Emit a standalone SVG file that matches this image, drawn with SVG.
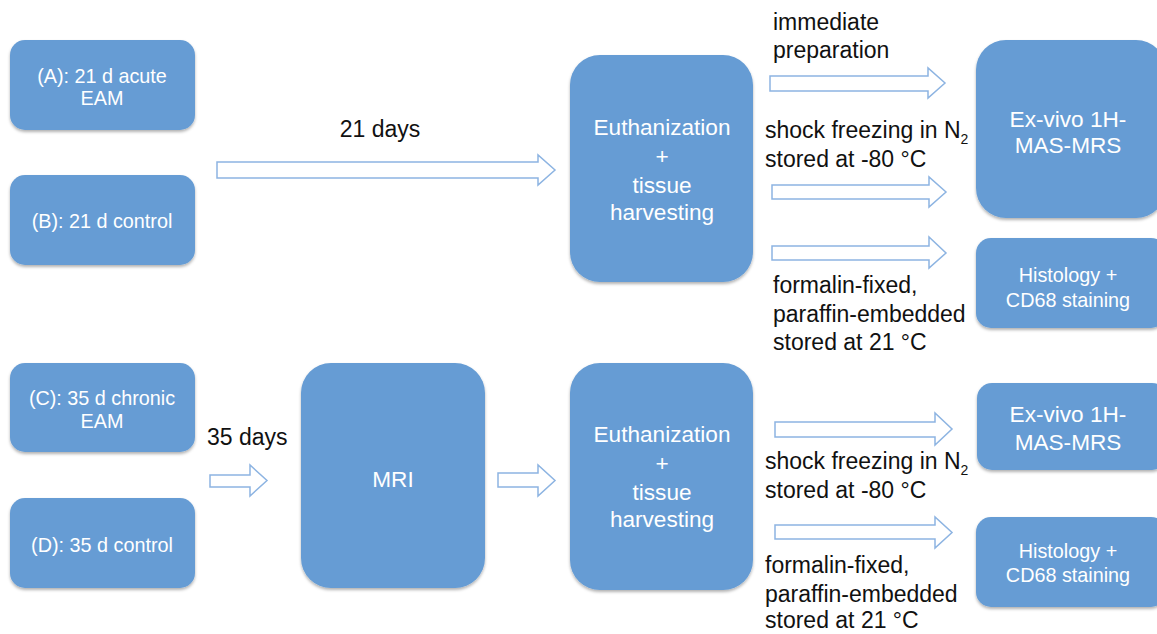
<svg xmlns="http://www.w3.org/2000/svg" width="1157" height="634" viewBox="0 0 1157 634">
<style>
.box{fill:#669cd4;filter:url(#sh)}
.wt{fill:#ffffff;font-family:"Liberation Sans",Arial,sans-serif;text-anchor:middle}
.w19{font-size:19.8px}
.w22{font-size:22.6px}
.lbl{fill:#111111;font-family:"Liberation Sans",Arial,sans-serif;font-size:23px}
.arr{fill:#ffffff;stroke:#8db4e2;stroke-width:1.5;stroke-linejoin:miter}
</style>
<defs>
<filter id="sh" x="-10%" y="-10%" width="120%" height="125%">
<feDropShadow dx="0" dy="2" stdDeviation="1.5" flood-color="#000" flood-opacity="0.3"/>
</filter>
</defs>
<rect width="1157" height="634" fill="#ffffff"/>
<g id="nodeA"><rect class="box" x="10" y="40" width="185" height="90" rx="15"/>
<text class="wt w19" x="102" y="83">(A): 21 d acute</text><text class="wt w19" x="102" y="105">EAM</text></g>
<g id="nodeB"><rect class="box" x="10" y="175" width="185" height="90" rx="15"/>
<text class="wt w19" x="102" y="228">(B): 21 d control</text></g>
<g id="nodeEuth1"><rect class="box" x="570" y="55" width="183" height="227" rx="30"/>
<text class="wt w22" x="662" y="135">Euthanization</text><text class="wt w22" x="662" y="164">+</text><text class="wt w22" x="662" y="193">tissue</text><text class="wt w22" x="662" y="220">harvesting</text></g>
<g id="nodeMRS1"><rect class="box" x="976" y="40" width="190" height="178" rx="30"/>
<text class="wt w22" x="1068" y="127">Ex-vivo 1H-</text><text class="wt w22" x="1068" y="153">MAS-MRS</text></g>
<g id="nodeHist1"><rect class="box" x="976" y="238" width="190" height="90" rx="15"/>
<text class="wt w19" x="1068" y="282">Histology +</text><text class="wt w19" x="1068" y="307">CD68 staining</text></g>
<g id="nodeC"><rect class="box" x="10" y="363" width="185" height="89" rx="15"/>
<text class="wt w19" x="102" y="405">(C): 35 d chronic</text><text class="wt w19" x="102" y="428">EAM</text></g>
<g id="nodeD"><rect class="box" x="10" y="498" width="185" height="90" rx="15"/>
<text class="wt w19" x="102" y="552">(D): 35 d control</text></g>
<g id="nodeMRI"><rect class="box" x="301" y="363" width="184" height="225" rx="30"/>
<text class="wt w22" x="393" y="487">MRI</text></g>
<g id="nodeEuth2"><rect class="box" x="570" y="363" width="183" height="227" rx="30"/>
<text class="wt w22" x="662" y="442">Euthanization</text><text class="wt w22" x="662" y="471">+</text><text class="wt w22" x="662" y="500">tissue</text><text class="wt w22" x="662" y="527">harvesting</text></g>
<g id="nodeMRS2"><rect class="box" x="977" y="383" width="190" height="87" rx="15"/>
<text class="wt w22" x="1068" y="422">Ex-vivo 1H-</text><text class="wt w22" x="1068" y="450">MAS-MRS</text></g>
<g id="nodeHist2"><rect class="box" x="976" y="517" width="190" height="90" rx="15"/>
<text class="wt w19" x="1068" y="558">Histology +</text><text class="wt w19" x="1068" y="582">CD68 staining</text></g>
<g id="connectors">
<path class="arr" d="M217,162 H538 V155 L555,170 L538,185 V178 H217 Z"/>
<path class="arr" d="M770,76 H928 V68 L945,83 L928,98 V91 H770 Z"/>
<path class="arr" d="M772,185 H929 V177 L946,192 L929,207 V199 H772 Z"/>
<path class="arr" d="M772,246 H929 V237 L946,253 L929,268 V260 H772 Z"/>
<path class="arr" d="M210,475 H250 V465 L267,480.5 L250,496 V487 H210 Z"/>
<path class="arr" d="M498,473 H538 V465 L555,480.5 L538,496 V487 H498 Z"/>
<path class="arr" d="M775,422 H935 V413 L952,429 L935,445 V437 H775 Z"/>
<path class="arr" d="M775,525 H935 V517 L952,532.5 L935,548 V539 H775 Z"/>
</g>
<g id="labels">
<text class="lbl" x="380" y="137" text-anchor="middle">21 days</text>
<text class="lbl" x="773" y="30">immediate</text>
<text class="lbl" x="773" y="58">preparation</text>
<text class="lbl" x="765" y="138">shock freezing in N<tspan font-size="14" dy="6">2</tspan></text>
<text class="lbl" x="765" y="167">stored at -80 °C</text>
<text class="lbl" x="773" y="293">formalin-fixed,</text>
<text class="lbl" x="773" y="322">paraffin-embedded</text>
<text class="lbl" x="773" y="350">stored at 21 °C</text>
<text class="lbl" x="207" y="445">35 days</text>
<text class="lbl" x="765" y="469">shock freezing in N<tspan font-size="14" dy="6">2</tspan></text>
<text class="lbl" x="765" y="498">stored at -80 °C</text>
<text class="lbl" x="765" y="573">formalin-fixed,</text>
<text class="lbl" x="765" y="602">paraffin-embedded</text>
<text class="lbl" x="765" y="628">stored at 21 °C</text>
</g>
</svg>
